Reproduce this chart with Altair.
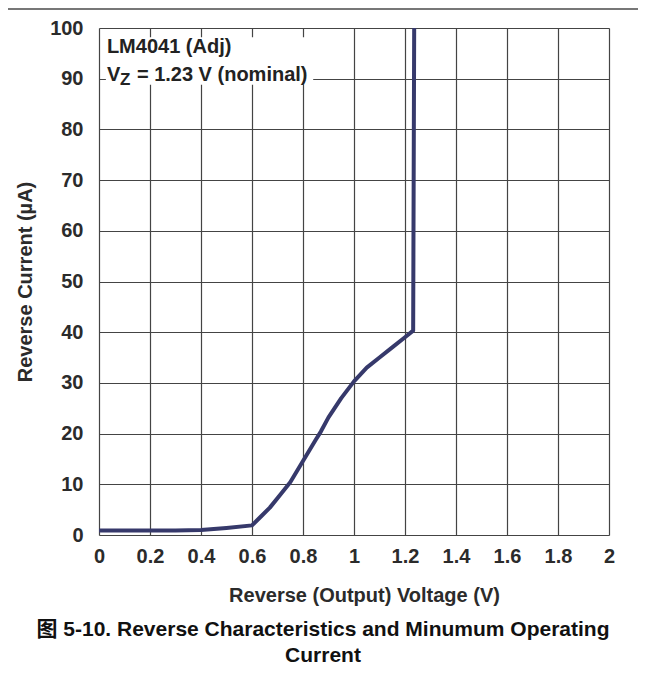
import altair as alt
import pandas as pd

FONT = "Liberation Sans, Arial, Noto Sans CJK SC, sans-serif"

# Curve values
voltage = [0.0, 0.1, 0.2, 0.3, 0.4, 0.5, 0.6, 0.64, 0.67, 0.71, 0.75, 0.8,
           0.85, 0.87, 0.9, 0.95, 1.0, 1.05, 1.1, 1.15, 1.2, 1.232, 1.236]
current = [0.9, 0.9, 0.9, 0.9, 1.0, 1.4, 1.9, 3.9, 5.4, 7.9, 10.4, 14.6,
           18.8, 20.4, 23.2, 27.0, 30.3, 33.0, 35.0, 37.0, 39.0, 40.3, 100.0]

x_ticks = [0, 0.2, 0.4, 0.6, 0.8, 1.0, 1.2, 1.4, 1.6, 1.8, 2.0]
y_ticks = [0, 10, 20, 30, 40, 50, 60, 70, 80, 90, 100]

# Annotation (data coordinates)
note_box_x = [0.027]
note_box_x2 = [0.84]
note_box_y = [88.8]
note_box_y2 = [98.2]
note1_text = ["LM4041 (Adj)"]
note_x = [0.031]
note1_y = [95.1]
note2_y = [89.5]

caption = ["图 5-10. Reverse Characteristics and Minumum Operating", "Current"]

curve_df = pd.DataFrame({"v": voltage, "i": current, "o": list(range(len(voltage)))})
box_df = pd.DataFrame({"x": note_box_x, "x2": note_box_x2, "y": note_box_y, "y2": note_box_y2})
n1_df = pd.DataFrame({"x": note_x, "y": note1_y, "t": note1_text})
n2_df = pd.DataFrame({"x": note_x, "y": note2_y})

xs = alt.Scale(domain=[0, 2], nice=False)
ys = alt.Scale(domain=[0, 100], nice=False)

TXT = "#2b2b2b"
x_axis = alt.Axis(values=x_ticks, format="~g", title="Reverse (Output) Voltage (V)",
                  grid=True, gridColor="#444", gridWidth=1.2, domain=False, ticks=False,
                  labelFont=FONT, labelFontSize=20, labelFontWeight="bold", labelColor=TXT,
                  labelPadding=11, labelFlush=False,
                  titleFont=FONT, titleFontSize=20, titleFontWeight="bold", titleColor=TXT,
                  titlePadding=19, titleX=265)
y_axis = alt.Axis(values=y_ticks, title="Reverse Current (µA)",
                  grid=True, gridColor="#444", gridWidth=1.2, domain=False, ticks=False,
                  labelFont=FONT, labelFontSize=20, labelFontWeight="bold", labelColor=TXT,
                  labelPadding=16, labelFlush=False,
                  titleFont=FONT, titleFontSize=20, titleFontWeight="bold", titleColor=TXT,
                  titlePadding=14)

base_line = alt.Chart(curve_df).mark_line(color="#36396b", strokeWidth=4, strokeJoin="round").encode(
    x=alt.X("v:Q", scale=xs, axis=x_axis),
    y=alt.Y("i:Q", scale=ys, axis=y_axis),
    order="o:Q",
)

box = alt.Chart(box_df).mark_rect(color="white").encode(
    x=alt.X("x:Q", scale=xs), x2="x2:Q",
    y=alt.Y("y:Q", scale=ys), y2="y2:Q",
)

txt_style = dict(align="left", baseline="alphabetic", font=FONT, fontWeight="bold", color="#222")

n1 = alt.Chart(n1_df).mark_text(fontSize=20, **txt_style).encode(
    x=alt.X("x:Q", scale=xs), y=alt.Y("y:Q", scale=ys), text="t:N")
n2a = alt.Chart(n2_df).mark_text(fontSize=20, text="V", **txt_style).encode(
    x=alt.X("x:Q", scale=xs), y=alt.Y("y:Q", scale=ys))
n2b = alt.Chart(n2_df).mark_text(fontSize=17, text="Z", dx=13, dy=4, **txt_style).encode(
    x=alt.X("x:Q", scale=xs), y=alt.Y("y:Q", scale=ys))
n2c = alt.Chart(n2_df).mark_text(fontSize=20, text="= 1.23 V (nominal)", dx=30, **txt_style).encode(
    x=alt.X("x:Q", scale=xs), y=alt.Y("y:Q", scale=ys))

# decorative page rule at the top (as near to the page edge as the svg allows)
top_rule = alt.Chart(n2_df).mark_rule(color="#777777", strokeWidth=2).encode(
    x=alt.value(-91), x2=alt.value(539), y=alt.value(-19))

chart = alt.layer(box, base_line, n1, n2a, n2b, n2c, top_rule).properties(
    width=510, height=507,
    padding={"left": 91, "top": 20, "right": 29, "bottom": 130},
    autosize=alt.AutoSizeParams(type="none"),
    title=alt.TitleParams(text=caption, orient="bottom", anchor="middle", frame="bounds",
                          font=FONT, fontSize=21, fontWeight="bold", color="#111",
                          offset=14, lineHeight=26),
).configure_view(stroke="#333", strokeWidth=2.2).configure(background="white")

chart.save("out.html", embed_options={"renderer": "svg", "actions": False})
